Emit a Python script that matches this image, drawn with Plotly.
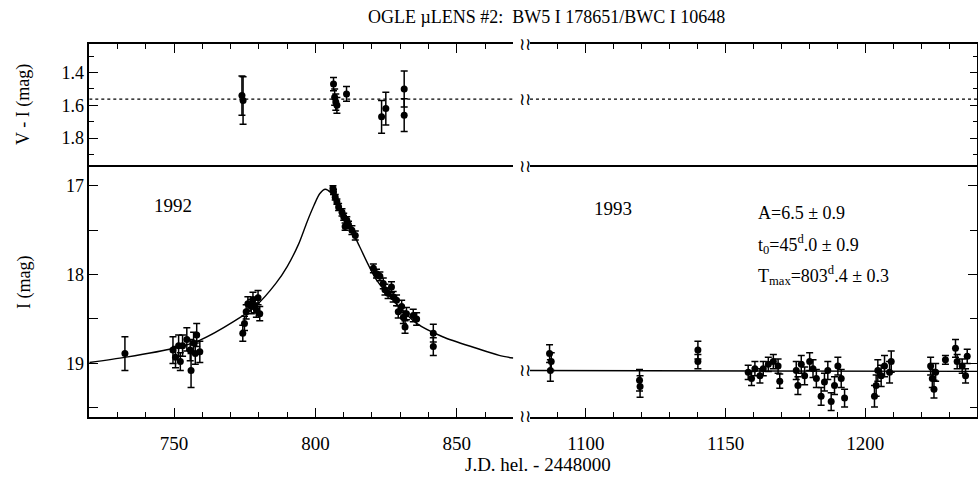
import plotly.graph_objects as go

W, H = 978, 486
def px(x):
    return x / W
def py(y):
    return 1 - y / H

FONT = "Liberation Serif, Times New Roman, serif"

# ---------------- data ----------------
# V - I colour, 1992
vi_t = [774.0, 774.4, 806.4, 806.8, 807.2, 807.6, 811.0, 823.4, 824.9, 831.4, 831.4]
vi = [1.54, 1.57, 1.47, 1.55, 1.58, 1.60, 1.53, 1.67, 1.62, 1.50, 1.66]
vi_err = [0.12, 0.145, 0.04, 0.05, 0.05, 0.048, 0.045, 0.10, 0.10, 0.11, 0.10]
vi_mean = 1.562

# I magnitudes, 1992 season
t92 = [732.6, 749.6, 750.5, 751.6, 752.2, 753.0, 754.5, 755.7, 756.0, 756.9, 757.5, 758.0, 759.1,
       774.3, 774.9, 775.5, 776.1, 777.3, 777.9, 778.5, 779.1, 779.7, 780.3,
       806.2, 806.4, 807.0, 807.6, 808.2, 809.4, 810.0, 810.5, 811.1, 811.7, 812.9, 814.1,
       820.5, 821.6, 822.8, 824.0, 824.6, 825.7, 826.9, 827.5, 828.7, 829.3, 830.5, 831.1,
       831.7, 832.2, 834.6, 835.8, 841.7, 841.7]
I92 = [18.89, 18.85, 18.93, 18.80, 18.98, 18.80, 18.73, 18.85, 19.08, 18.77, 18.89, 18.68, 18.87,
       18.66, 18.55, 18.42, 18.33, 18.36, 18.28, 18.35, 18.40, 18.26, 18.44,
       17.03, 17.07, 17.13, 17.18, 17.24, 17.30, 17.35, 17.46, 17.39, 17.44, 17.50, 17.56,
       17.93, 17.99, 18.02, 18.10, 18.17, 18.21, 18.14, 18.25, 18.29, 18.42, 18.36, 18.48,
       18.59, 18.44, 18.46, 18.50, 18.66, 18.81]
e92 = [0.19, 0.15, 0.12, 0.12, 0.10, 0.12, 0.13, 0.12, 0.19, 0.12, 0.12, 0.13, 0.12,
       0.09, 0.08, 0.08, 0.08, 0.08, 0.08, 0.08, 0.08, 0.08, 0.08,
       0.03, 0.03, 0.03, 0.03, 0.04, 0.04, 0.04, 0.04, 0.04, 0.04, 0.05, 0.05,
       0.05, 0.05, 0.05, 0.06, 0.06, 0.06, 0.06, 0.06, 0.06, 0.07, 0.07, 0.07,
       0.07, 0.07, 0.07, 0.07, 0.10, 0.10]

# I magnitudes, 1993 season
t93 = [1087.0, 1087.3, 1087.6, 1119.2, 1119.4, 1140.1, 1140.1,
       1158.1, 1159.3, 1160.5, 1162.3, 1163.5, 1165.3, 1167.1, 1168.8, 1169.4,
       1175.3, 1175.9, 1177.1, 1178.3, 1180.1, 1181.3, 1182.5, 1184.2, 1185.4, 1186.6,
       1187.8, 1189.0, 1190.2, 1191.4, 1192.6,
       1203.3, 1203.9, 1204.5, 1205.7, 1206.9, 1208.7, 1209.3,
       1223.4, 1224.0, 1224.6, 1225.2, 1228.7, 1232.3, 1232.9, 1234.7, 1235.9, 1236.5]
I93 = [18.89, 19.08, 18.98, 19.19, 19.26, 18.85, 18.98,
       19.10, 19.17, 19.06, 19.14, 19.06, 19.01, 18.98, 19.03, 19.20,
       19.08, 19.25, 19.01, 19.14, 18.98, 19.06, 19.17, 19.37, 19.21, 19.08,
       19.43, 19.25, 19.03, 19.17, 19.39,
       19.37, 19.25, 19.08, 19.14, 19.03, 19.10, 18.98,
       19.03, 19.17, 19.29, 19.10, 18.96, 18.83, 18.98, 19.03, 19.14, 18.92]
e93 = [0.10, 0.12, 0.10, 0.12, 0.12, 0.10, 0.08,
       0.08, 0.08, 0.08, 0.08, 0.08, 0.08, 0.08, 0.08, 0.08,
       0.10, 0.10, 0.10, 0.10, 0.10, 0.10, 0.10, 0.10, 0.10, 0.10,
       0.10, 0.10, 0.10, 0.10, 0.10,
       0.12, 0.12, 0.12, 0.12, 0.12, 0.12, 0.12,
       0.10, 0.10, 0.10, 0.10, 0.05, 0.10, 0.08, 0.08, 0.08, 0.08]

# fitted light curve
curve_t = [720, 733, 750, 759, 771, 779, 786, 790, 794, 797, 799.5, 801.5, 803.5, 805.5, 808, 811, 815.7,
           821.6, 828.7, 835.8, 845, 857, 865, 870]
curve_I = [18.99, 18.93, 18.83, 18.74, 18.53, 18.35, 18.10, 17.91, 17.66, 17.41, 17.22, 17.09, 17.04, 17.08,
           17.19, 17.37, 17.69, 18.06, 18.33, 18.55, 18.70, 18.83, 18.91, 18.94]
flat_t = [1080, 1240]
flat_I = [19.08, 19.09]

range92 = [720, 870]
range93 = [1080, 1240]
range_I = [19.6, 16.786]
range_VI = [1.975, 1.225]

# ---------------- figure ----------------
fig = go.Figure()
err_style = dict(type="data", thickness=1.5, width=3.5, color="black")
mk = dict(color="black", size=7)

fig.add_trace(go.Scatter(x=range92, y=[vi_mean, vi_mean], mode="lines",
                         line=dict(color="black", width=1.2, dash="dot"), xaxis="x3", yaxis="y3"))
fig.add_trace(go.Scatter(x=range93, y=[vi_mean, vi_mean], mode="lines",
                         line=dict(color="black", width=1.2, dash="dot"), xaxis="x4", yaxis="y4"))
fig.add_trace(go.Scatter(x=vi_t, y=vi, mode="markers", marker=mk,
                         error_y=dict(array=vi_err, **err_style), xaxis="x3", yaxis="y3"))

fig.add_trace(go.Scatter(x=curve_t, y=curve_I, mode="lines",
                         line=dict(color="black", width=1.4, shape="spline", smoothing=0.8),
                         xaxis="x", yaxis="y"))
fig.add_trace(go.Scatter(x=flat_t, y=flat_I, mode="lines", line=dict(color="black", width=1.4),
                         xaxis="x2", yaxis="y2"))
fig.add_trace(go.Scatter(x=t92, y=I92, mode="markers", marker=mk,
                         error_y=dict(array=e92, **err_style), xaxis="x", yaxis="y"))
fig.add_trace(go.Scatter(x=t93, y=I93, mode="markers", marker=mk,
                         error_y=dict(array=e93, **err_style), xaxis="x2", yaxis="y2"))

dom92 = [px(89.3), px(513.3)]
dom93 = [px(530), px(977)]
domI = [py(416.7), py(166.7)]
domVI = [py(166.7), py(44)]

common = dict(showgrid=False, zeroline=False, showline=True, linecolor="black", linewidth=1.6,
              ticks="inside", tickcolor="black", tickwidth=1.4)
xcommon = dict(common, dtick=50, tick0=0, ticklen=9,
               minor=dict(dtick=10, tick0=0, ticks="inside", ticklen=5, tickcolor="black", tickwidth=1.3),
               tickfont=dict(family=FONT, size=19, color="black"))

fig.update_layout(
    width=W, height=H, margin=dict(l=0, r=0, t=0, b=0),
    paper_bgcolor="white", plot_bgcolor="white", showlegend=False,
    xaxis=dict(xcommon, domain=dom92, range=range92, anchor="y", mirror=True, ticklabelstandoff=9),
    xaxis2=dict(xcommon, domain=dom93, range=range93, anchor="y2", mirror=True, ticklabelstandoff=9),
    xaxis3=dict(xcommon, domain=dom92, range=range92, anchor="y3", side="top", showticklabels=False),
    xaxis4=dict(xcommon, domain=dom93, range=range93, anchor="y4", side="top", showticklabels=False),
    yaxis=dict(common, domain=domI, range=range_I, anchor="x", dtick=1, tick0=0, ticklen=9,
               minor=dict(dtick=0.5, tick0=0, ticks="inside", ticklen=9, tickcolor="black", tickwidth=1.3),
               tickfont=dict(family=FONT, size=18, color="black")),
    yaxis2=dict(common, domain=domI, range=range_I, anchor="x2", side="right", dtick=1, tick0=0, ticklen=9,
                showticklabels=False,
                minor=dict(dtick=0.5, tick0=0, ticks="inside", ticklen=7, tickcolor="black", tickwidth=1.3)),
    yaxis3=dict(common, domain=domVI, range=range_VI, anchor="x3", dtick=0.2, tick0=0, ticklen=9,
                tickformat=".1f",
                minor=dict(dtick=0.1, tick0=0, ticks="inside", ticklen=5, tickcolor="black", tickwidth=1.3),
                tickfont=dict(family=FONT, size=18, color="black")),
    yaxis4=dict(common, domain=domVI, range=range_VI, anchor="x4", side="right", dtick=0.2, tick0=0, ticklen=7,
                showticklabels=False,
                minor=dict(dtick=0.1, tick0=0, ticks="inside", ticklen=4, tickcolor="black", tickwidth=1.3)),
)

ann = []
def text(x, y, s, size=18, xanchor="center", textangle=0):
    ann.append(dict(x=px(x), y=py(y), xref="paper", yref="paper", text=s, showarrow=False,
                    xanchor=xanchor, yanchor="middle", textangle=textangle,
                    font=dict(family=FONT, size=size, color="black")))

text(546, 17, "OGLE \u00b5LENS #2:  BW5 I 178651/BWC I 10648", size=18)
text(538, 464, "J.D. hel. - 2448000", size=19)
text(24, 105, "V - I (mag)", size=18, textangle=-90)
text(24, 283, "I (mag)", size=18, textangle=-90)
text(173, 206, "1992", size=19)
text(613, 208, "1993", size=19)
text(756, 213, "A=6.5 \u00b1 0.9", size=18, xanchor="left")
text(756, 244, "t<sub>0</sub>=45<sup>d</sup>.0 \u00b1 0.9", size=18, xanchor="left")
text(756, 275, "T<sub>max</sub>=803<sup>d</sup>.4 \u00b1 0.3", size=18, xanchor="left")

for yy in [44, 99.3, 166.7, 370, 416.7]:
    text(525, yy, "\u2240\u2240", size=17)

fig.update_layout(annotations=ann)
fig.write_html("out.html")
